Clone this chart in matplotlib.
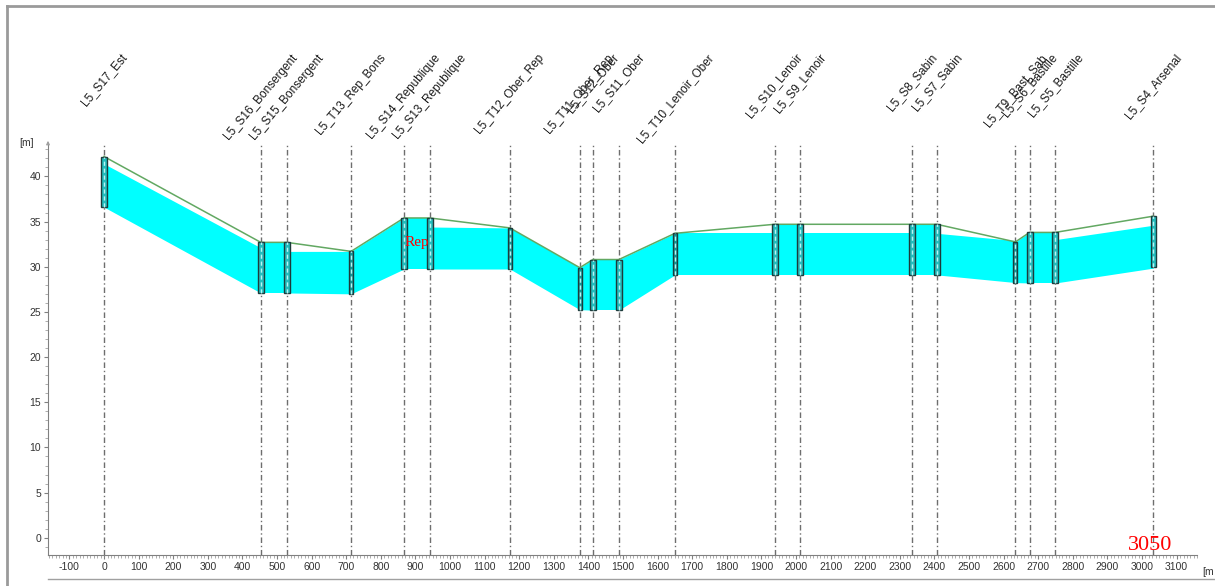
import matplotlib
matplotlib.use("Agg")
import matplotlib.pyplot as plt
from matplotlib.patches import Rectangle
from matplotlib.ticker import MultipleLocator
from matplotlib.transforms import blended_transform_factory

plt.rcParams['font.family'] = ['Liberation Sans', 'DejaVu Sans']
plt.rcParams['axes.unicode_minus'] = False

# sections along line 5 (chainage in m)
names = ["L5_S17_Est", "L5_S16_Bonsergent", "L5_S15_Bonsergent", "L5_T13_Rep_Bons",
         "L5_S14_Republique", "L5_S13_Republique", "L5_T12_Ober_Rep", "L5_T11_Ober_Rep",
         "L5_S12_Ober", "L5_S11_Ober", "L5_T10_Lenoir_Ober", "L5_S10_Lenoir",
         "L5_S9_Lenoir", "L5_S8_Sabin", "L5_S7_Sabin", "L5_T9_Bast_Sab",
         "L5_S6_Bastille", "L5_S5_Bastille", "L5_S4_Arsenal"]
sec_x = [0, 453, 528, 714, 867, 942, 1173, 1375, 1413, 1488, 1650,
         1938, 2012, 2334, 2407, 2634, 2675, 2749, 3033]
sec_top = [42.2, 32.7, 32.7, 31.7, 35.4, 35.4, 34.3, 29.9, 30.8, 30.8, 33.7,
           34.7, 34.7, 34.7, 34.7, 32.75, 33.8, 33.8, 35.6]
sec_bot = [36.6, 27.1, 27.1, 27.0, 29.75, 29.75, 29.75, 25.25, 25.2, 25.2, 29.1,
           29.1, 29.1, 29.1, 29.1, 28.25, 28.2, 28.2, 30.0]

# tunnel band between consecutive sections (left / right edge)
seg_top_l = [41.4, 32.7, 31.7, 31.7, 35.4, 34.4, 34.3, 29.9, 30.8, 30.8, 33.7,
             34.7, 33.7, 34.7, 33.7, 32.75, 33.8, 33.0]
seg_top_r = [32.1, 32.7, 31.7, 35.4, 35.4, 34.3, 29.9, 30.8, 30.8, 33.7, 33.7,
             34.7, 33.7, 34.7, 32.9, 33.8, 33.8, 34.6]
seg_bot_l = [36.6, 27.1, 27.1, 27.0, 29.75, 29.75, 29.75, 25.25, 25.2, 25.2, 29.1,
             29.1, 29.1, 29.1, 29.1, 28.25, 28.2, 28.2]
seg_bot_r = [27.1, 27.1, 27.0, 29.75, 29.75, 29.75, 25.25, 25.2, 25.2, 29.1, 29.1,
             29.1, 29.1, 29.1, 28.25, 28.2, 28.2, 29.85]

fig = plt.figure(figsize=(12.15, 5.86), dpi=100)
ax = fig.add_axes([0.0395, 0.053, 0.946, 0.703])

# tunnel band
for i in range(len(sec_x) - 1):
    xs = [sec_x[i], sec_x[i + 1]]
    ax.fill_between(xs, [seg_bot_l[i], seg_bot_r[i]], [seg_top_l[i], seg_top_r[i]],
                    color="#00ffff", lw=0, zorder=2)

# ground line through section tops
ax.plot(sec_x, sec_top, color="#62a862", lw=1.1, zorder=3)

# section lines
for x in sec_x:
    ax.axvline(x, color="#6e6e6e", lw=1, dashes=[4, 2, 1, 2], zorder=1)

# section boxes
for name, x, t, b in zip(names, sec_x, sec_top, sec_bot):
    narrow = name.startswith("L5_T")
    w = 11 if narrow else 17
    fc = "#169898" if narrow else "#22bdbd"
    ax.add_patch(Rectangle((x - w / 2, b), w, t - b, facecolor=fc,
                           edgecolor="#1d3b3b", lw=1, zorder=4))
    ax.plot([x, x], [b, t], color="#b8f4f4", lw=1, dashes=[3, 2], zorder=5)

# station labels above the plot
trans = blended_transform_factory(ax.transData, fig.transFigure)
for name, x in zip(names, sec_x):
    ax.text(x, 0.912, name, transform=trans, rotation=50, ha="center", va="top",
            fontsize=8.5, color="#1a1a1a", clip_on=False)

ax.set_xlim(-162, 3160)
ax.set_ylim(-1.9, 43.7)
ax.xaxis.set_major_locator(MultipleLocator(100))
ax.xaxis.set_minor_locator(MultipleLocator(10))
ax.yaxis.set_major_locator(MultipleLocator(5))
ax.yaxis.set_minor_locator(MultipleLocator(1))
for s in ["top", "right"]:
    ax.spines[s].set_visible(False)
for s in ["left", "bottom"]:
    ax.spines[s].set_color("#808080")
ax.tick_params(axis="both", which="major", labelsize=7.5, colors="#808080",
               labelcolor="#333333", length=3, pad=2)
ax.tick_params(axis="both", which="minor", colors="#a0a0a0", length=2)

ax.text(-0.012, 1.0, "[m]", transform=ax.transAxes, ha="right", va="center",
        fontsize=7.5, color="#333333")
ax.annotate("", xy=(0, 1.012), xytext=(0, 0.99), xycoords="axes fraction",
            arrowprops=dict(arrowstyle="-|>", color="#a0a0a0", lw=0.8,
                            mutation_scale=5))
ax.text(1.004, -0.03, "[m", transform=ax.transAxes, ha="left", va="top",
        fontsize=7.5, color="#333333")

# hand annotations
ax.text(905, 32.7, "Rep", family="Liberation Serif", fontsize=11, color="red",
        ha="center", va="center", zorder=6)
ax.text(3022, -0.8, "3050", family="Liberation Serif", fontsize=16, color="red",
        ha="center", va="center", zorder=6)

# frame of the window
fig.add_artist(plt.Line2D([7 / 1215, 7 / 1215], [0, 1 - 6 / 586], color="#9a9a9a", lw=2))
fig.add_artist(plt.Line2D([7 / 1215, 1], [1 - 6 / 586, 1 - 6 / 586], color="#9a9a9a", lw=2))
fig.add_artist(plt.Line2D([48 / 1215, 1], [1 - 579 / 586, 1 - 579 / 586], color="#a0a0a0", lw=1))

fig.savefig("out.png", dpi=100)
